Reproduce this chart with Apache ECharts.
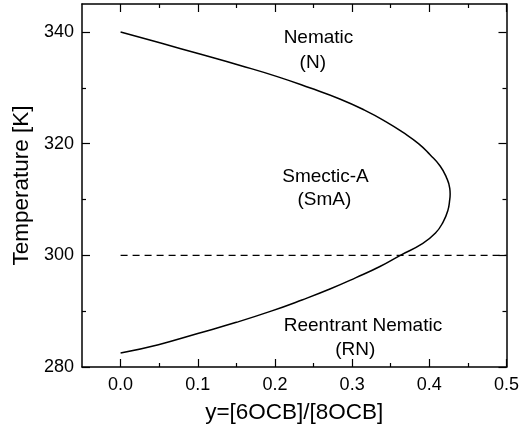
<!DOCTYPE html>
<html>
<head>
<meta charset="utf-8">
<script src="https://cdn.jsdelivr.net/npm/echarts@6/dist/echarts.min.js"></script>
<style>html,body{margin:0;padding:0;background:#fff}#c{width:522px;height:441px}</style>
</head>
<body>
<div id="c"></div>
<script>
// Phase boundary, traced along the curve from the top branch through the nose to the bottom branch
var boundaryX = [0, 0.052, 0.104, 0.155, 0.203, 0.245, 0.284, 0.316, 0.343, 0.366, 0.386, 0.401, 0.414, 0.422, 0.4265, 0.427, 0.4265, 0.424, 0.418, 0.408, 0.390, 0.3625, 0.336, 0.305, 0.272, 0.235, 0.195, 0.150, 0.100, 0.049, 0];
var boundaryY = [340, 338, 336, 334, 332, 330, 328, 326, 324, 322, 320, 318, 316, 314, 312, 311, 310, 308, 306, 304, 302, 300, 298, 296, 294, 292, 290, 288, 286, 284, 282.5];
// Dashed reference line at 300 K
var refX = [0, 0.5];
var refY = [300, 300];
// Tick values
var xMajor = [0, 0.1, 0.2, 0.3, 0.4, 0.5];
var xMinor = [0.05, 0.15, 0.25, 0.35, 0.45];
var yMajor = [280, 300, 320, 340];
var yMinor = [290, 310, 330];
// Region annotations
var annoText = ["Nematic", "(N)", "Smectic-A", "(SmA)", "Reentrant Nematic", "(RN)"];
var annoX = [0.2564, 0.249, 0.2655, 0.264, 0.314, 0.304];
var annoY = [338.9, 334.4, 314.0, 309.9, 287.3, 283.0];

var FONT = '"Liberation Sans", Arial, sans-serif';
var lineCol = '#000';

function pairs(xs, ys) { return xs.map(function (x, i) { return [x, ys[i]]; }); }

function xAx(pos, vals, len, showLine, showLabel) {
  return {
    type: 'value', position: pos, min: -0.05, max: 0.5, gridIndex: 0,
    splitLine: { show: false },
    axisLine: { show: showLine, onZero: false, lineStyle: { color: lineCol, width: 1.5 } },
    axisTick: { show: true, inside: true, length: len, customValues: vals, lineStyle: { color: lineCol, width: 1.2 } },
    axisLabel: { show: showLabel, customValues: vals, fontSize: 18, color: '#000', fontFamily: FONT, margin: 9,
      formatter: function (v) { return (+v).toFixed(1); } }
  };
}
function yAx(pos, vals, len, showLine, showLabel) {
  return {
    type: 'value', position: pos, min: 280, max: 345, gridIndex: 0,
    splitLine: { show: false },
    axisLine: { show: showLine, onZero: false, lineStyle: { color: lineCol, width: 1.5 } },
    axisTick: { show: true, inside: true, length: len, customValues: vals, lineStyle: { color: lineCol, width: 1.2 } },
    axisLabel: { show: showLabel, customValues: vals, fontSize: 18, color: '#000', fontFamily: FONT, margin: 8 }
  };
}

var xAxes = [
  xAx('bottom', xMajor, 8, true, true),
  xAx('bottom', xMinor, 4, false, false),
  xAx('top', xMajor, 8, true, false),
  xAx('top', xMinor, 4, false, false)
];
xAxes[0].name = 'y=[6OCB]/[8OCB]';
xAxes[0].nameLocation = 'middle';
xAxes[0].nameGap = 34;
xAxes[0].nameTextStyle = { fontSize: 22.5, color: '#000', fontFamily: FONT };

var yAxes = [
  yAx('left', yMajor, 8, true, true),
  yAx('left', yMinor, 4, false, false),
  yAx('right', yMajor, 8, true, false),
  yAx('right', yMinor, 4, false, false)
];
yAxes[0].name = 'Temperature [K]';
yAxes[0].nameLocation = 'middle';
yAxes[0].nameGap = 48;
yAxes[0].nameTextStyle = { fontSize: 22.5, color: '#000', fontFamily: FONT };

var chart = echarts.init(document.getElementById('c'), null, { renderer: 'canvas' });
chart.setOption({
  animation: false,
  backgroundColor: '#fff',
  grid: { left: 82, right: 13, top: 4, bottom: 74, containLabel: false },
  xAxis: xAxes,
  yAxis: yAxes,
  series: [
    {
      type: 'line', xAxisIndex: 0, yAxisIndex: 0,
      data: pairs(boundaryX, boundaryY),
      smooth: 0.5, showSymbol: false, symbol: 'none',
      lineStyle: { color: '#000', width: 1.5 }
    },
    {
      type: 'line', xAxisIndex: 0, yAxisIndex: 0,
      data: pairs(refX, refY),
      showSymbol: false, symbol: 'none',
      lineStyle: { color: '#000', width: 1.2, type: [7, 5] }
    },
    {
      type: 'scatter', xAxisIndex: 0, yAxisIndex: 0,
      symbolSize: 0,
      itemStyle: { opacity: 1, color: '#000' },
      data: annoX.map(function (x, i) { return { value: [x, annoY[i]], name: annoText[i] }; }),
      label: {
        show: true, position: 'inside', formatter: '{b}',
        fontSize: 19, color: '#000', opacity: 1, fontFamily: FONT
      },
      emphasis: { disabled: true },
      silent: true
    }
  ]
});
</script>
</body>
</html>
